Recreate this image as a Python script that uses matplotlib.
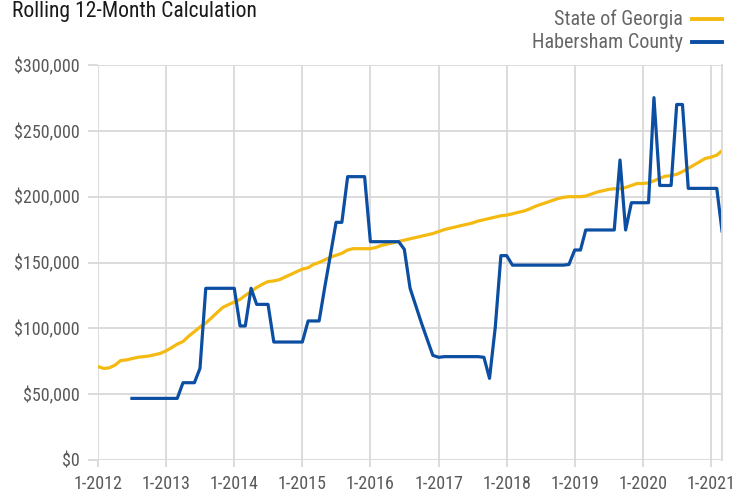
import pandas as pd
import matplotlib
matplotlib.use("Agg")
import matplotlib.pyplot as plt
from matplotlib.lines import Line2D
from matplotlib.ticker import FuncFormatter
import matplotlib.dates as mdates

# monthly values, Jan 2012 .. Mar 2021, in $ thousands
months = pd.date_range("2012-01-01", "2021-03-01", freq="MS")

georgia = [71, 69.5, 70, 72, 75.5, 76, 77, 78, 78.5, 79,
           80, 81, 83, 85.5, 88, 90, 94, 97.5, 101, 104,
           108, 112, 116, 118, 120, 122, 125, 128, 131, 133.5,
           135.5, 136, 137, 139, 141, 143, 145, 146, 148.5, 150,
           152, 154, 155.5, 157, 159.5, 160.5, 160.5, 160.5, 160.5, 161.5,
           163, 164, 165, 166, 167, 168, 169, 170, 171, 172,
           173.5, 175, 176, 177, 178, 179, 180, 181.5, 182.5, 183.5,
           184.5, 185.5, 186, 187, 188, 189, 190.5, 192.5, 194, 195.5,
           197, 198.5, 199.5, 200, 200, 200, 200.5, 202, 203.5, 204.5,
           205.5, 206, 206, 207, 208.5, 210, 210, 210.5, 212, 214,
           215.5, 216, 217, 219, 221.5, 224, 226.5, 229, 230, 231.5, 235]

habersham = [None, None, None, None, None, None, 46.8, 46.8, 46.8, 46.8,
             46.8, 46.8, 46.8, 46.8, 46.8, 58.7, 58.7, 58.7, 69.6, 130.4,
             130.4, 130.4, 130.4, 130.4, 130.4, 101.8, 101.8, 130.4, 118.2, 118.2,
             118.2, 89.6, 89.6, 89.6, 89.6, 89.6, 89.6, 105.6, 105.6, 105.6,
             131, 156, 180.5, 180.5, 215.2, 215.2, 215.2, 215.2, 165.8, 165.8,
             165.8, 165.8, 165.8, 165.8, 160, 130.4, 117, 104, 91.5, 79.5,
             78, 78.5, 78.5, 78.5, 78.5, 78.5, 78.5, 78.5, 78, 62,
             101, 155.2, 155.2, 148, 148, 148, 148, 148, 148, 148,
             148, 148, 148, 148.5, 159.5, 159.5, 174.7, 174.7, 174.7, 174.7,
             174.7, 174.7, 227.8, 174.7, 195.4, 195.4, 195.4, 195.4, 275.2, 208.5,
             208.5, 208.5, 270, 270, 206.3, 206.3, 206.3, 206.3, 206.3, 206.3, 174]

series_names = ["State of Georgia", "Habersham County"]
colors = ["#F4BA12", "#0B4EA2"]

df = pd.DataFrame({"georgia": georgia, "habersham": habersham}, index=months) * 1000

plt.rcParams["font.family"] = ["Roboto Condensed", "DejaVu Sans"]

fig = plt.figure(figsize=(7.48, 4.93), dpi=100)
ax = fig.add_axes([98 / 748, 33 / 493, 624 / 748, 395 / 493])

ax.plot(df.index, df["georgia"], color=colors[0], lw=2.3, solid_joinstyle="round")
ax.plot(df.index, df["habersham"], color=colors[1], lw=2.3, solid_joinstyle="round")

ax.set_xlim(months[0], months[-1])
ax.set_ylim(0, 300000)
ax.set_yticks(range(0, 300001, 50000))
ax.yaxis.set_major_formatter(FuncFormatter(lambda v, p: "${:,.0f}".format(v)))
ax.xaxis.set_major_locator(mdates.YearLocator())
ax.xaxis.set_major_formatter(FuncFormatter(lambda v, p: "1-%d" % mdates.num2date(v).year))

grid_c = "#D9D9D9"
ax.grid(True, color=grid_c, lw=1.3)
ax.set_axisbelow(True)
for s in ["left", "top", "bottom"]:
    ax.spines[s].set_visible(False)
ax.spines["right"].set_color(grid_c)
ax.spines["right"].set_linewidth(1.3)
ax.tick_params(axis="both", colors=grid_c, labelcolor="#595959", labelsize=13,
               width=1.3)
ax.tick_params(axis="x", length=5, pad=6)
ax.tick_params(axis="y", length=7, pad=6)

fig.text(12 / 748, 1 - 12 / 493, "Rolling 12-Month Calculation", fontsize=15.6,
         color="#1a1a1a", va="center", ha="left")

for i, (name, c) in enumerate(zip(series_names, colors)):
    yy = 1 - (19 + 23 * i) / 493
    fig.text(683 / 748, yy, name, fontsize=14.5, color="#666666", ha="right", va="center")
    fig.add_artist(Line2D([692 / 748, 722 / 748], [yy, yy], color=c, lw=2.8,
                          transform=fig.transFigure))

fig.savefig("out.png", dpi=100)
